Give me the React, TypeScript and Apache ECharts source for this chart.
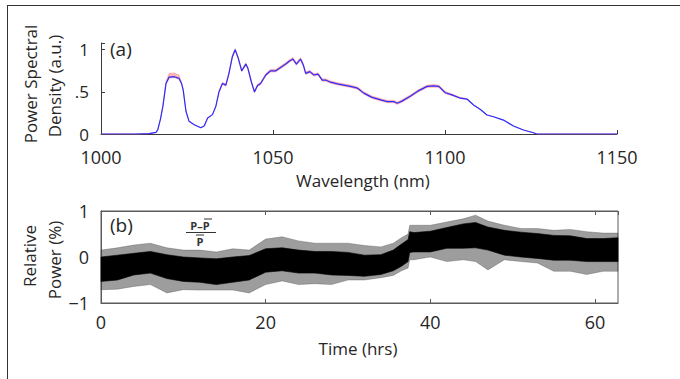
import React, { useEffect, useRef } from "react";
import * as echarts from "echarts";

// ---- (a) spectrum ----
const wavelength = [1000, 1010, 1014, 1016, 1016.5, 1017.3, 1018, 1018.9, 1019.8, 1021.3, 1022.7, 1023.4, 1023.9, 1024.7, 1025.6, 1027.1, 1029, 1030, 1031, 1032.4, 1033.4, 1034.3, 1035.3, 1036.3, 1037.2, 1038.2, 1039, 1039.9, 1040.9, 1042.1, 1042.7, 1043.7, 1044.6, 1045.5, 1046.4, 1047.9, 1049.3, 1050.8, 1052.2, 1053.7, 1054.9, 1055.8, 1056.8, 1058, 1058.8, 1059.5, 1060.7, 1061.9, 1063.1, 1064.3, 1065.3, 1066.7, 1068.7, 1070.6, 1072.5, 1074.5, 1076.4, 1078.8, 1081.3, 1083.2, 1085.1, 1086.1, 1087.5, 1090, 1092.4, 1094.8, 1096.7, 1098.2, 1100.1, 1102, 1104.5, 1106.4, 1108.3, 1110.3, 1112.2, 1114.1, 1117, 1119.9, 1122.8, 1125.7, 1126.7, 1150];
const psd = [0, 0, 0.005, 0.02, 0.05, 0.18, 0.33, 0.6, 0.675, 0.68, 0.66, 0.6, 0.52, 0.27, 0.15, 0.11, 0.075, 0.095, 0.19, 0.23, 0.33, 0.5, 0.6, 0.58, 0.72, 0.92, 1.0, 0.9, 0.75, 0.83, 0.78, 0.62, 0.5, 0.575, 0.6, 0.7, 0.75, 0.75, 0.79, 0.83, 0.87, 0.89, 0.83, 0.89, 0.82, 0.72, 0.74, 0.7, 0.71, 0.64, 0.64, 0.615, 0.595, 0.58, 0.565, 0.545, 0.485, 0.435, 0.405, 0.385, 0.385, 0.365, 0.39, 0.45, 0.515, 0.565, 0.57, 0.565, 0.49, 0.465, 0.425, 0.415, 0.345, 0.29, 0.225, 0.205, 0.165, 0.095, 0.048, 0.015, 0, 0];
const psdErrUp = [0, 0, 0, 0, 0, 0, 0.01, 0.03, 0.045, 0.045, 0.04, 0.02, 0.005, 0, 0, 0, 0, 0, 0, 0, 0.005, 0.015, 0.015, 0.015, 0.015, 0.015, 0.015, 0.015, 0.015, 0.015, 0.015, 0.015, 0.015, 0.015, 0.018, 0.018, 0.018, 0.018, 0.018, 0.018, 0.018, 0.018, 0.018, 0.018, 0.018, 0.018, 0.018, 0.016, 0.016, 0.016, 0.016, 0.016, 0.016, 0.016, 0.016, 0.016, 0.016, 0.016, 0.016, 0.016, 0.016, 0.016, 0.016, 0.016, 0.016, 0.016, 0.016, 0.016, 0.014, 0.012, 0.01, 0.006, 0, 0, 0, 0, 0, 0, 0, 0, 0, 0];
const psdErrDn = [0, 0, 0, 0, 0, 0, 0.005, 0.01, 0.012, 0.012, 0.012, 0.008, 0.003, 0, 0, 0, 0, 0, 0, 0, 0.003, 0.013, 0.013, 0.013, 0.013, 0.013, 0.013, 0.013, 0.013, 0.013, 0.013, 0.013, 0.013, 0.013, 0.015, 0.015, 0.015, 0.015, 0.015, 0.015, 0.015, 0.015, 0.015, 0.015, 0.015, 0.015, 0.015, 0.014, 0.014, 0.014, 0.014, 0.014, 0.014, 0.014, 0.014, 0.014, 0.014, 0.014, 0.014, 0.014, 0.014, 0.014, 0.014, 0.014, 0.014, 0.014, 0.014, 0.014, 0.012, 0.01, 0.008, 0.005, 0, 0, 0, 0, 0, 0, 0, 0, 0, 0];

// ---- (b) relative power envelopes ----
const timeHrs = [0, 2, 4, 6, 8, 10, 12, 14, 16, 18, 20, 22, 24, 26, 28, 30, 32, 34, 35.5, 36.5, 37.3, 37.5, 38, 40, 42, 44, 45.5, 47, 49, 51, 53, 55, 57, 59, 61, 62.8];
const coreHi = [0.0, 0.04, 0.08, 0.12, 0.05, 0.0, -0.02, -0.04, 0.0, 0.03, 0.18, 0.2, 0.15, 0.12, 0.12, 0.1, 0.04, 0.05, 0.15, 0.28, 0.38, 0.55, 0.53, 0.56, 0.64, 0.72, 0.75, 0.65, 0.58, 0.54, 0.51, 0.47, 0.46, 0.4, 0.4, 0.42];
const coreLo = [-0.53, -0.5, -0.39, -0.35, -0.47, -0.53, -0.55, -0.6, -0.55, -0.5, -0.33, -0.3, -0.35, -0.35, -0.39, -0.4, -0.42, -0.38, -0.3, -0.2, -0.1, 0.1, 0.11, 0.11, 0.19, 0.19, 0.2, 0.15, 0.04, 0.0, -0.03, -0.07, -0.07, -0.1, -0.1, -0.1];
const spikeHi = [0.15, 0.2, 0.26, 0.3, 0.2, 0.15, 0.15, 0.11, 0.18, 0.15, 0.39, 0.44, 0.35, 0.3, 0.3, 0.3, 0.25, 0.22, 0.3, 0.42, 0.5, 0.69, 0.69, 0.69, 0.76, 0.83, 0.91, 0.78, 0.69, 0.62, 0.62, 0.58, 0.6, 0.55, 0.52, 0.52];
const spikeLo = [-0.71, -0.7, -0.64, -0.6, -0.78, -0.71, -0.72, -0.72, -0.72, -0.78, -0.6, -0.52, -0.6, -0.58, -0.6, -0.5, -0.5, -0.45, -0.4, -0.3, -0.24, -0.06, -0.06, 0.0, -0.1, -0.06, -0.1, -0.28, -0.06, -0.1, -0.13, -0.31, -0.31, -0.38, -0.31, -0.31];

const FONT = "'Open Sans', 'DejaVu Sans', sans-serif";
const TXT = "#262626";
const AX = "#3a3a3a";

function bandSeries(xs: number[], lo: number[], hi: number[], gi: number, fill: string, opacity: number, z: number) {
  return {
    type: "custom",
    xAxisIndex: gi,
    yAxisIndex: gi,
    z,
    silent: true,
    data: [[xs[0], lo[0]]],
    renderItem: (params: any, api: any) => {
      if (params.dataIndex !== 0) return null;
      const top = xs.map((x, i) => api.coord([x, hi[i]]));
      const bot = xs.map((x, i) => api.coord([x, lo[i]])).reverse();
      return {
        type: "polygon",
        shape: { points: top.concat(bot) },
        style: { fill, opacity, stroke: fill, lineWidth: 0.6 },
      };
    },
  };
}

export default function App() {
  const ref = useRef<HTMLDivElement>(null);
  useEffect(() => {
    if (!ref.current) return;
    const chart = echarts.init(ref.current, null, { renderer: "svg" });
    const psdUp = psd.map((v, i) => v + psdErrUp[i]);
    const psdDn = psd.map((v, i) => v - psdErrDn[i]);
    const tickLabel = { fontSize: 18, color: TXT, fontFamily: FONT };
    chart.setOption({
      animation: false,
      backgroundColor: "#ffffff",
      grid: [
        { left: 101, right: 63, top: 43, bottom: 245 },
        { left: 101, right: 62, top: 211, bottom: 76, show: true, borderColor: "#5a5a5a", borderWidth: 1, backgroundColor: "transparent" },
      ],
      xAxis: [
        {
          type: "value", gridIndex: 0, min: 1000, max: 1150, interval: 50,
          axisLine: { show: true, lineStyle: { color: AX, width: 1 } },
          axisTick: { show: true, inside: true, length: 4, lineStyle: { color: AX } },
          axisLabel: { ...tickLabel, margin: 14, lineHeight: 18, formatter: (v: number) => String(v) },
          splitLine: { show: false },
        },
        {
          type: "value", gridIndex: 1, min: 0, max: 62.8, interval: 20,
          axisLine: { show: true, onZero: false, lineStyle: { color: "#5a5a5a", width: 1 } },
          axisTick: { show: true, inside: true, length: 4, lineStyle: { color: "#5a5a5a" } },
          axisLabel: { ...tickLabel, margin: 10, lineHeight: 18, showMaxLabel: false, formatter: (v: number) => String(v) },
          splitLine: { show: false },
        },
        {
          type: "value", gridIndex: 1, position: "top", min: 0, max: 62.8, interval: 20,
          axisLine: { show: true, onZero: false, lineStyle: { color: "#5a5a5a", width: 1 } },
          axisTick: { show: true, inside: true, length: 4, lineStyle: { color: "#5a5a5a" } },
          axisLabel: { show: false },
          splitLine: { show: false },
        },
      ],
      yAxis: [
        {
          type: "value", gridIndex: 0, min: 0, max: 1.08, interval: 0.5,
          axisLine: { show: true, lineStyle: { color: AX, width: 1 } },
          axisTick: { show: true, inside: true, length: 4, lineStyle: { color: AX } },
          axisLabel: {
            ...tickLabel, fontSize: 17, margin: 12, lineHeight: 14,
            formatter: (v: number) => (v === 0 ? "0" : v === 0.5 ? ".5" : v === 1 ? "1" : ""),
          },
          splitLine: { show: false },
        },
        {
          type: "value", gridIndex: 1, min: -1, max: 1, interval: 1,
          axisLine: { show: true, lineStyle: { color: "#5a5a5a", width: 1 } },
          axisTick: { show: true, inside: true, length: 3, lineStyle: { color: "#5a5a5a" } },
          axisLabel: { ...tickLabel, margin: 12, lineHeight: 14, formatter: (v: number) => (v < 0 ? "\u2212" + Math.abs(v) : String(v)) },
          splitLine: { show: false },
        },
      ],
      series: [
        bandSeries(wavelength, psdDn, psdUp, 0, "#ff6b6b", 0.5, 2),
        {
          type: "line", xAxisIndex: 0, yAxisIndex: 0, z: 3,
          data: wavelength.map((w, i) => [w, psd[i]]),
          showSymbol: false, silent: true,
          lineStyle: { color: "#2b2bff", width: 1.2 },
        },
        bandSeries(timeHrs, spikeLo, spikeHi, 1, "#3c3c3c", 0.5, 2),
        bandSeries(timeHrs, coreLo, coreHi, 1, "#000000", 1, 3),
      ],
      graphic: [
        { type: "line", shape: { x1: 7, y1: 5.5, x2: 680, y2: 5.5 }, style: { stroke: "#333", lineWidth: 1 } },
        { type: "line", shape: { x1: 7.5, y1: 5, x2: 7.5, y2: 379 }, style: { stroke: "#333", lineWidth: 1 } },
        { type: "text", x: 110, y: 49, style: { text: "(a)", font: `19px ${FONT}`, fill: TXT, textVerticalAlign: "middle" } },
        { type: "text", x: 110, y: 225, style: { text: "(b)", font: `19px ${FONT}`, fill: TXT, textVerticalAlign: "middle" } },
        { type: "text", x: 200, y: 225, style: { text: "P\u2013P", font: `bold 11px ${FONT}`, fill: "#333", textAlign: "center", textVerticalAlign: "middle" } },
        { type: "line", shape: { x1: 204, y1: 219, x2: 212, y2: 219 }, style: { stroke: "#333", lineWidth: 1 } },
        { type: "line", shape: { x1: 186, y1: 232.5, x2: 216, y2: 232.5 }, style: { stroke: "#333", lineWidth: 1 } },
        { type: "line", shape: { x1: 196, y1: 235, x2: 204, y2: 235 }, style: { stroke: "#333", lineWidth: 1 } },
        { type: "text", x: 200, y: 241, style: { text: "P", font: `bold 11px ${FONT}`, fill: "#333", textAlign: "center", textVerticalAlign: "middle" } },
        { type: "text", x: 30, y: 84, rotation: Math.PI / 2, style: { text: "Power Spectral", font: `17px ${FONT}`, fill: TXT, textAlign: "center", textVerticalAlign: "middle" } },
        { type: "text", x: 54, y: 86, rotation: Math.PI / 2, style: { text: "Density (a.u.)", font: `17px ${FONT}`, fill: TXT, textAlign: "center", textVerticalAlign: "middle" } },
        { type: "text", x: 363, y: 180, style: { text: "Wavelength (nm)", font: `17px ${FONT}`, fill: TXT, textAlign: "center", textVerticalAlign: "middle" } },
        { type: "text", x: 29, y: 256, rotation: Math.PI / 2, style: { text: "Relative", font: `17px ${FONT}`, fill: TXT, textAlign: "center", textVerticalAlign: "middle" } },
        { type: "text", x: 54, y: 260, rotation: Math.PI / 2, style: { text: "Power (%)", font: `17px ${FONT}`, fill: TXT, textAlign: "center", textVerticalAlign: "middle" } },
        { type: "text", x: 358, y: 348, style: { text: "Time (hrs)", font: `17px ${FONT}`, fill: TXT, textAlign: "center", textVerticalAlign: "middle" } },
      ],
    });
    return () => chart.dispose();
  }, []);
  return <div ref={ref} style={{ position: "fixed", left: 0, top: 0, width: 680, height: 379 }} />;
}
